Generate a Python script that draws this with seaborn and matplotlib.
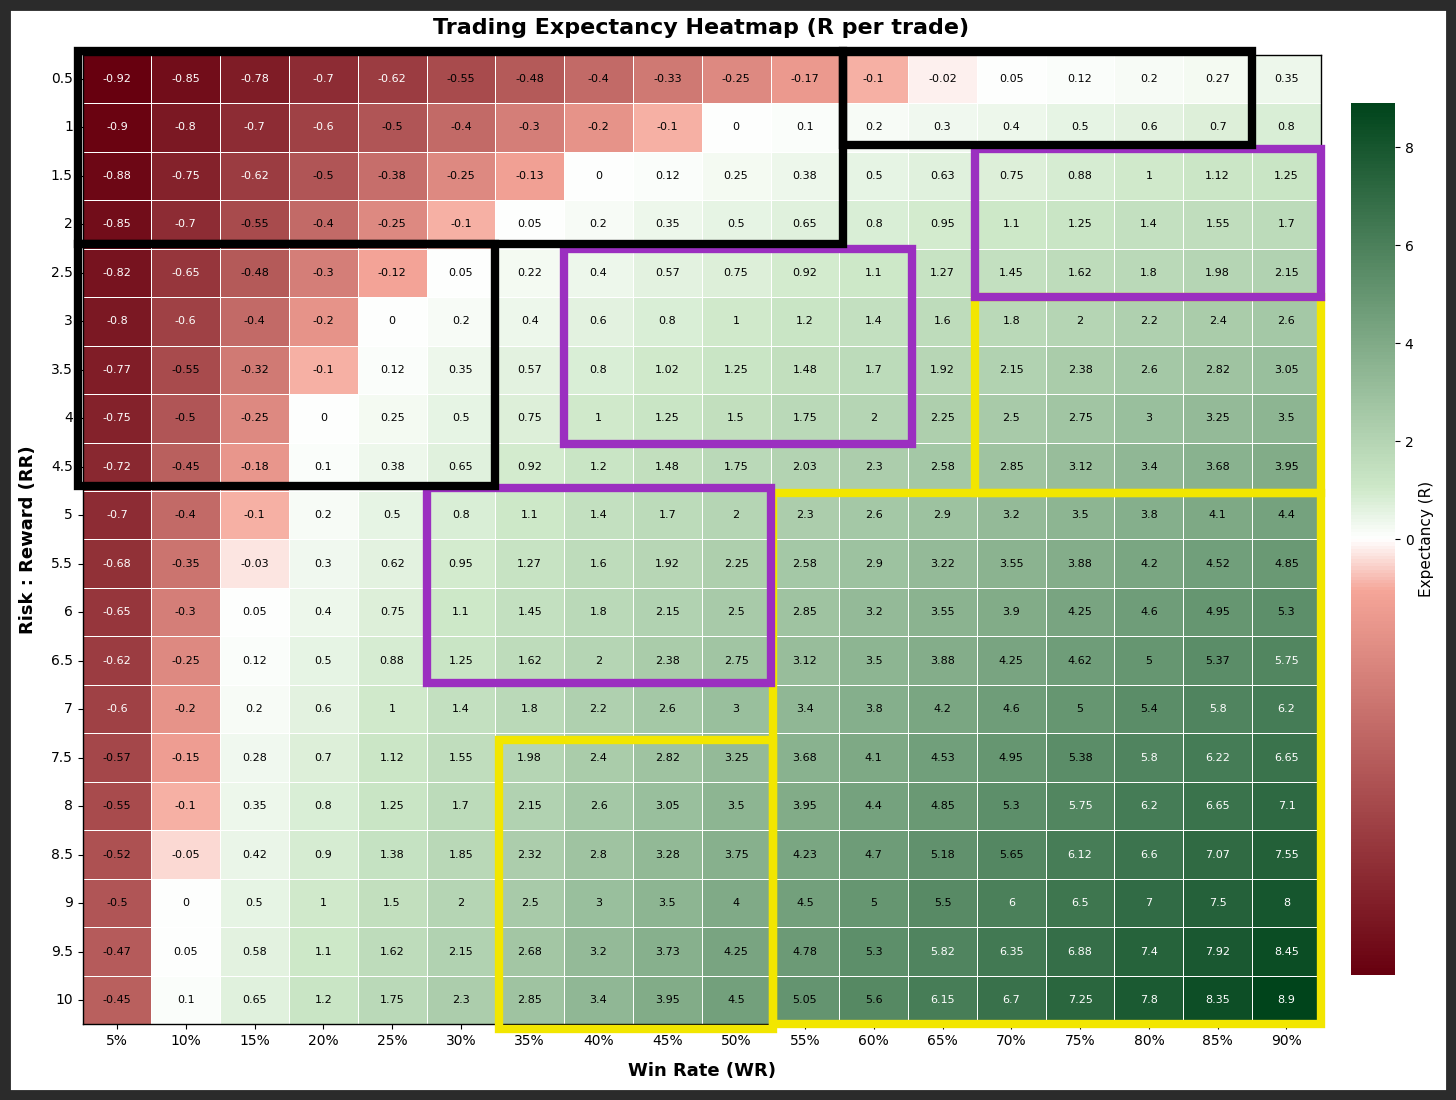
import matplotlib
matplotlib.use("Agg")
import matplotlib.pyplot as plt
import seaborn as sns
import pandas as pd
import numpy as np
from matplotlib.colors import LinearSegmentedColormap, TwoSlopeNorm
from matplotlib.patches import Rectangle

win_rates = ["5%", "10%", "15%", "20%", "25%", "30%", "35%", "40%", "45%",
             "50%", "55%", "60%", "65%", "70%", "75%", "80%", "85%", "90%"]
risk_rewards = ["0.5", "1", "1.5", "2", "2.5", "3", "3.5", "4", "4.5", "5",
                "5.5", "6", "6.5", "7", "7.5", "8", "8.5", "9", "9.5", "10"]

# expectancy (R per trade), one list per risk:reward row
rr_0_5 = [-0.92, -0.85, -0.78, -0.7, -0.62, -0.55, -0.48, -0.4, -0.33, -0.25, -0.17, -0.1, -0.02, 0.05, 0.12, 0.2, 0.27, 0.35]
rr_1_0 = [-0.9, -0.8, -0.7, -0.6, -0.5, -0.4, -0.3, -0.2, -0.1, 0, 0.1, 0.2, 0.3, 0.4, 0.5, 0.6, 0.7, 0.8]
rr_1_5 = [-0.88, -0.75, -0.62, -0.5, -0.38, -0.25, -0.13, 0, 0.12, 0.25, 0.38, 0.5, 0.63, 0.75, 0.88, 1, 1.12, 1.25]
rr_2_0 = [-0.85, -0.7, -0.55, -0.4, -0.25, -0.1, 0.05, 0.2, 0.35, 0.5, 0.65, 0.8, 0.95, 1.1, 1.25, 1.4, 1.55, 1.7]
rr_2_5 = [-0.82, -0.65, -0.48, -0.3, -0.12, 0.05, 0.22, 0.4, 0.57, 0.75, 0.92, 1.1, 1.27, 1.45, 1.62, 1.8, 1.98, 2.15]
rr_3_0 = [-0.8, -0.6, -0.4, -0.2, 0, 0.2, 0.4, 0.6, 0.8, 1, 1.2, 1.4, 1.6, 1.8, 2, 2.2, 2.4, 2.6]
rr_3_5 = [-0.77, -0.55, -0.32, -0.1, 0.12, 0.35, 0.57, 0.8, 1.02, 1.25, 1.48, 1.7, 1.92, 2.15, 2.38, 2.6, 2.82, 3.05]
rr_4_0 = [-0.75, -0.5, -0.25, 0, 0.25, 0.5, 0.75, 1, 1.25, 1.5, 1.75, 2, 2.25, 2.5, 2.75, 3, 3.25, 3.5]
rr_4_5 = [-0.72, -0.45, -0.18, 0.1, 0.38, 0.65, 0.92, 1.2, 1.48, 1.75, 2.03, 2.3, 2.58, 2.85, 3.12, 3.4, 3.68, 3.95]
rr_5_0 = [-0.7, -0.4, -0.1, 0.2, 0.5, 0.8, 1.1, 1.4, 1.7, 2, 2.3, 2.6, 2.9, 3.2, 3.5, 3.8, 4.1, 4.4]
rr_5_5 = [-0.68, -0.35, -0.03, 0.3, 0.62, 0.95, 1.27, 1.6, 1.92, 2.25, 2.58, 2.9, 3.22, 3.55, 3.88, 4.2, 4.52, 4.85]
rr_6_0 = [-0.65, -0.3, 0.05, 0.4, 0.75, 1.1, 1.45, 1.8, 2.15, 2.5, 2.85, 3.2, 3.55, 3.9, 4.25, 4.6, 4.95, 5.3]
rr_6_5 = [-0.62, -0.25, 0.12, 0.5, 0.88, 1.25, 1.62, 2, 2.38, 2.75, 3.12, 3.5, 3.88, 4.25, 4.62, 5, 5.37, 5.75]
rr_7_0 = [-0.6, -0.2, 0.2, 0.6, 1, 1.4, 1.8, 2.2, 2.6, 3, 3.4, 3.8, 4.2, 4.6, 5, 5.4, 5.8, 6.2]
rr_7_5 = [-0.57, -0.15, 0.28, 0.7, 1.12, 1.55, 1.98, 2.4, 2.82, 3.25, 3.68, 4.1, 4.53, 4.95, 5.38, 5.8, 6.22, 6.65]
rr_8_0 = [-0.55, -0.1, 0.35, 0.8, 1.25, 1.7, 2.15, 2.6, 3.05, 3.5, 3.95, 4.4, 4.85, 5.3, 5.75, 6.2, 6.65, 7.1]
rr_8_5 = [-0.52, -0.05, 0.42, 0.9, 1.38, 1.85, 2.32, 2.8, 3.28, 3.75, 4.23, 4.7, 5.18, 5.65, 6.12, 6.6, 7.07, 7.55]
rr_9_0 = [-0.5, 0, 0.5, 1, 1.5, 2, 2.5, 3, 3.5, 4, 4.5, 5, 5.5, 6, 6.5, 7, 7.5, 8]
rr_9_5 = [-0.47, 0.05, 0.58, 1.1, 1.62, 2.15, 2.68, 3.2, 3.73, 4.25, 4.78, 5.3, 5.82, 6.35, 6.88, 7.4, 7.92, 8.45]
rr_10_0 = [-0.45, 0.1, 0.65, 1.2, 1.75, 2.3, 2.85, 3.4, 3.95, 4.5, 5.05, 5.6, 6.15, 6.7, 7.25, 7.8, 8.35, 8.9]

cbar_ticks = [0, 2, 4, 6, 8]

rows = [rr_0_5, rr_1_0, rr_1_5, rr_2_0, rr_2_5, rr_3_0, rr_3_5, rr_4_0, rr_4_5, rr_5_0,
        rr_5_5, rr_6_0, rr_6_5, rr_7_0, rr_7_5, rr_8_0, rr_8_5, rr_9_0, rr_9_5, rr_10_0]
df = pd.DataFrame(rows, index=risk_rewards, columns=win_rates)

# highlight boxes in cell units: (col, row, width, height)
black_boxes = [(-0.07, -0.07, 11.12, 3.97), (11.05, -0.07, 5.95, 1.93), (-0.07, 3.9, 6.07, 5.0)]
purple_boxes = [(12.97, 1.94, 5.03, 3.06), (7.0, 4.0, 5.05, 4.03), (5.0, 8.93, 5.0, 4.04)]
yellow_boxes = [(12.97, 5.0, 5.03, 4.04), (10.04, 9.04, 7.96, 10.96), (6.05, 14.13, 3.99, 5.97)]

cmap = LinearSegmentedColormap.from_list(
    "expectancy",
    [(0.0, "#67000f"), (0.44, "#f5a598"), (0.5, "#ffffff"), (0.56, "#cde8c8"), (1.0, "#00441b")])
norm = TwoSlopeNorm(vmin=df.values.min(), vcenter=0, vmax=df.values.max())

fig = plt.figure(figsize=(14.56, 11), dpi=100)
ax = fig.add_axes([0.0567, 0.0689, 0.8505, 0.8813])
cax = fig.add_axes([0.9279, 0.1136, 0.0302, 0.7927])

sns.heatmap(df, ax=ax, cbar_ax=cax, cmap=cmap, norm=norm, annot=True, fmt="g",
            annot_kws={"fontsize": 8}, linewidths=0.6, linecolor="white",
            cbar_kws={"ticks": cbar_ticks})

# white text on the darkest cells at both ends of the scale
for txt, val in zip(ax.texts, df.values.flatten()):
    nv = norm(val)
    txt.set_color("white" if (nv < 0.18 or nv > 0.82) else "black")

for spine in ax.spines.values():
    spine.set_visible(True)
    spine.set_linewidth(1)

for boxes, colour, z in [(yellow_boxes, "#f2e600", 5), (purple_boxes, "#9b2fc0", 6), (black_boxes, "black", 7)]:
    for x, y, w, h in boxes:
        ax.add_patch(Rectangle((x, y), w, h, fill=False, edgecolor=colour,
                               linewidth=6, clip_on=False, zorder=z))

ax.tick_params(axis="both", labelsize=10)
ax.set_yticklabels(ax.get_yticklabels(), rotation=0)
ax.set_xticklabels(ax.get_xticklabels(), rotation=0)
ax.set_xlabel("Win Rate (WR)", fontsize=13, fontweight="bold", labelpad=10)
ax.set_ylabel("Risk : Reward (RR)", fontsize=13, fontweight="bold", labelpad=10)

cax.tick_params(labelsize=10)
cax.set_ylabel("Expectancy (R)", fontsize=11)

fig.text(0.4818, 0.9745, "Trading Expectancy Heatmap (R per trade)", ha="center", va="center",
         fontsize=16, fontweight="bold")

# dark screenshot frame around the figure
fig.add_artist(Rectangle((0, 0), 1, 1, transform=fig.transFigure, fill=False,
                         edgecolor="#2b2b2b", linewidth=15, zorder=100))

fig.savefig("out.png", dpi=100)
